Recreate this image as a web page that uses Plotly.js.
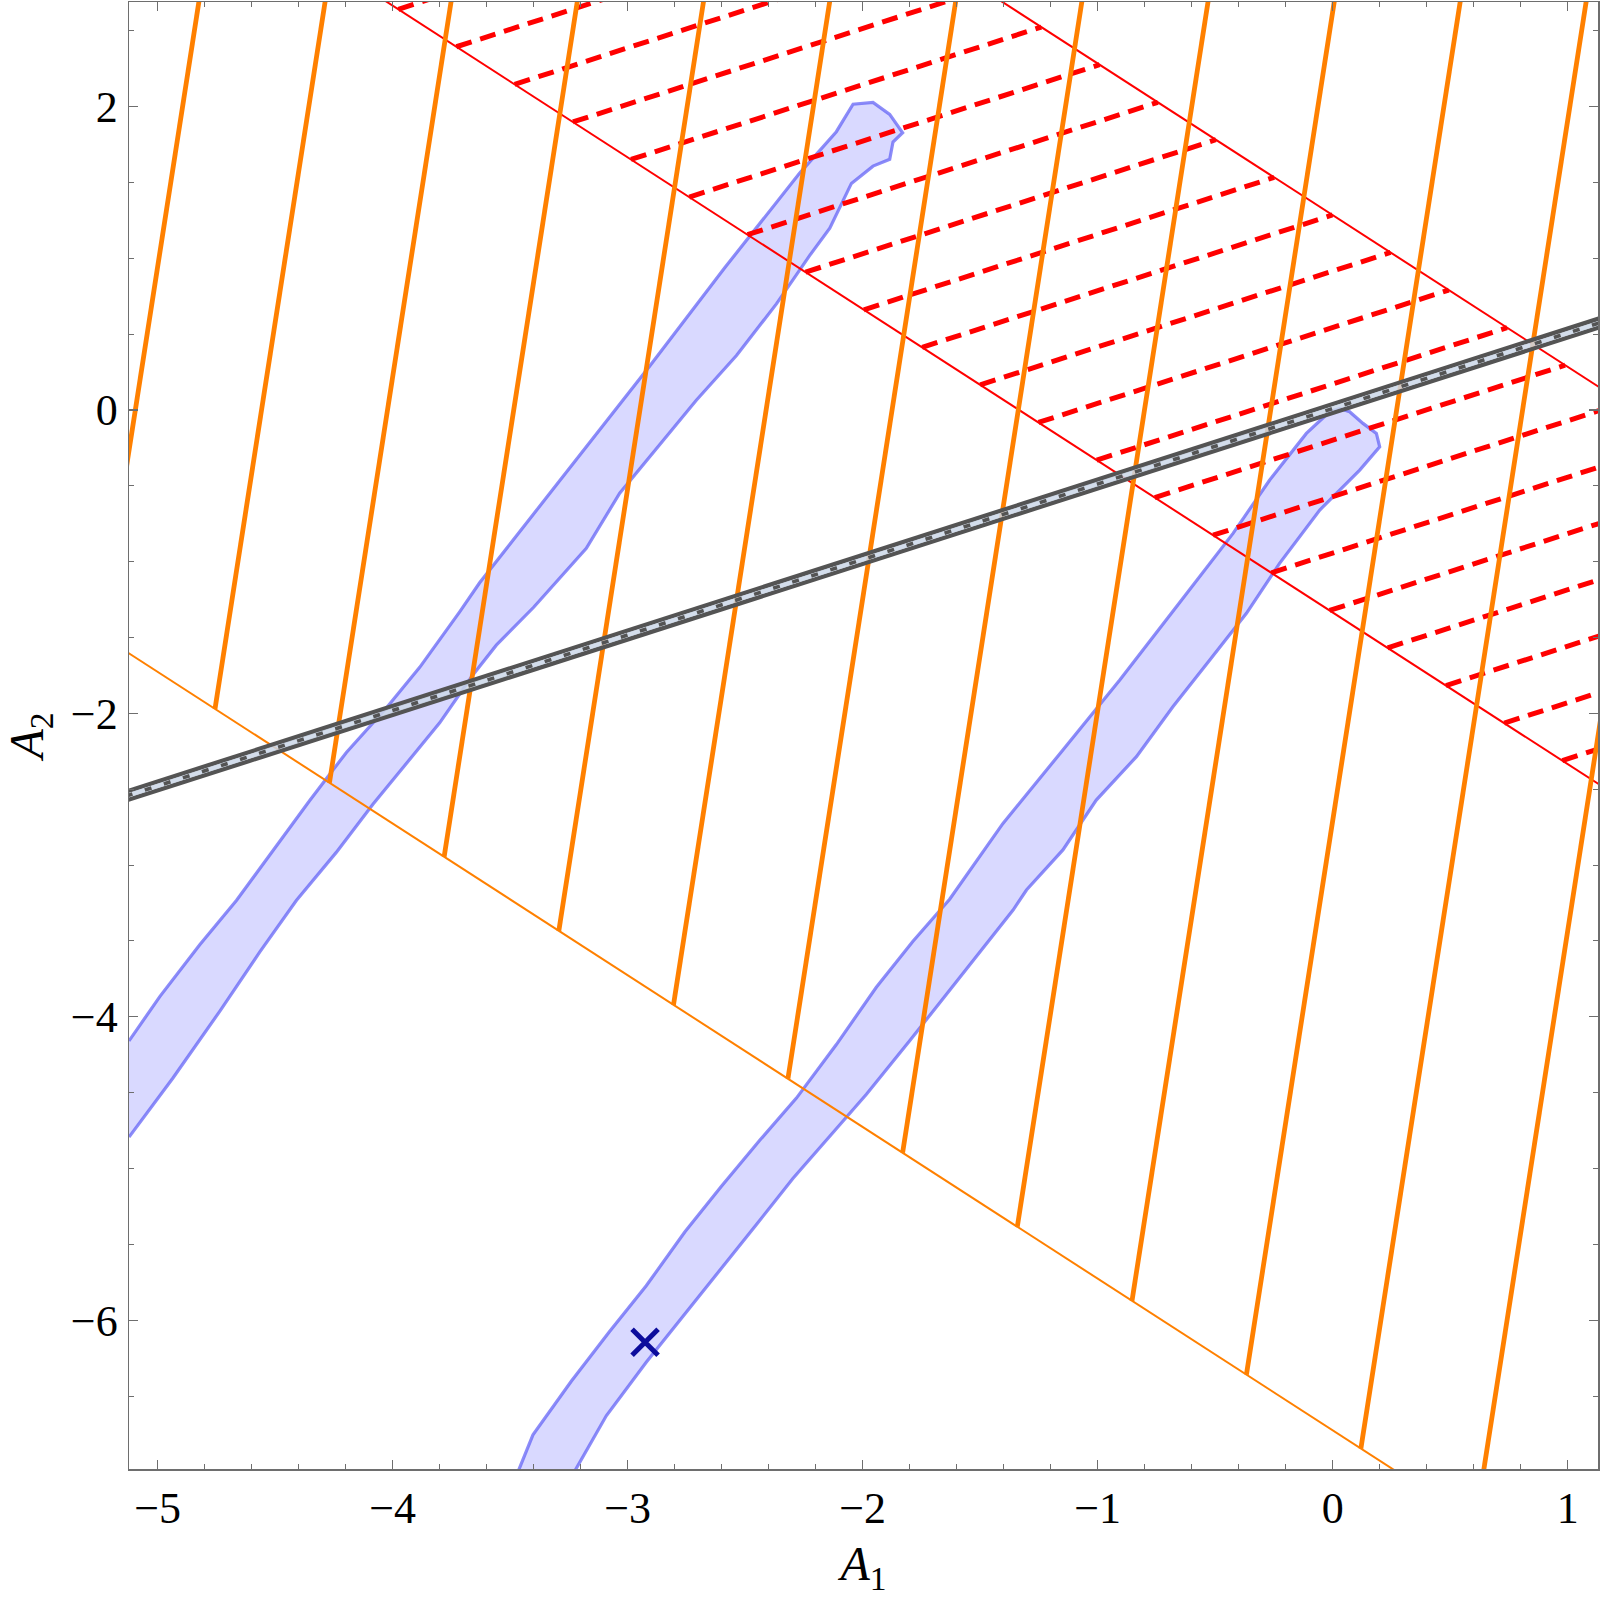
<!DOCTYPE html>
<html>
<head>
<meta charset="utf-8">
<script src="https://cdn.plot.ly/plotly-3.0.1.min.js"></script>
<style>html,body{margin:0;padding:0;background:#fff;}#chart{width:1600px;height:1599px;}</style>
</head>
<body>
<div id="chart"></div>
<script>
// ---- axis ranges and ticks ----
const xRange = [-5.122, 1.129];
const yRange = [-6.981, 2.690];
const xTicks = [-5, -4, -3, -2, -1, 0, 1];
const yTicks = [-6, -4, -2, 0, 2];

// ---- straight boundaries (y = slope*x + intercept) ----
const orangeBoundary = {slope: -1, intercept: -6.726};
const redLower = {slope: -1, intercept: -1.334};
const redUpper = {slope: -1, intercept: 1.285};
const grayLine = {slope: 0.4976, intercept: 0.01};

// ---- thick orange lines: start x on orange boundary, common slope ----
const orangeStartX = [-5.244, -4.756, -4.269, -3.781, -3.293, -2.805, -2.318, -1.830, -1.342, -0.854, -0.367, 0.120, 0.608];
const orangeSlope = 9.95;

// ---- red dashed lines: start x on lower red line, common slope, end on upper red line ----
const dashStartX = [-3.976, -3.729, -3.481, -3.233, -2.986, -2.738, -2.490, -2.243, -1.995, -1.747, -1.500, -1.252, -1.004, -0.757, -0.509, -0.261, -0.013, 0.234, 0.482, 0.730, 0.977];
const dashSlope = 0.5;

// ---- blue region 1 (upper-left band) ----
const band1X = [-5.122, -4.935, -4.736, -4.566, -4.410, -4.240, -4.084, -3.956, -3.800, -3.658, -3.559, -3.400, -3.346, -3.176, -3.034, -2.864, -2.708, -2.537, -2.367, -2.226, -2.140, -2.048, -1.956, -1.885, -1.871, -1.830,
  -1.885, -1.956, -2.041, -2.112, -2.268, -2.587, -2.906, -3.297, -3.630, -3.715, -3.885, -4.027, -4.197, -4.353, -4.516, -4.665, -4.821, -4.991, -5.122];
const band1Y = [-4.793, -4.403, -3.964, -3.574, -3.233, -2.916, -2.599, -2.355, -2.062, -1.745, -1.550, -1.300, -1.207, -0.912, -0.548, -0.231, 0.065, 0.359, 0.700, 1.018, 1.199, 1.494, 1.608, 1.653, 1.767, 1.828,
  1.949, 2.028, 2.016, 1.835, 1.562, 0.938, 0.291, -0.481, -1.139, -1.330, -1.696, -1.964, -2.257, -2.574, -2.916, -3.233, -3.525, -3.867, -4.159];

// ---- blue region 2 (lower-right band) ----
const band2X = [-3.481, -3.403, -3.240, -3.077, -2.921, -2.757, -2.601, -2.438, -2.282, -2.112, -1.942, -1.786, -1.630, -1.403, -1.148, -0.906, -0.665, -0.424, -0.268, -0.112, -0.013, 0.030, 0.072, 0.129, 0.186, 0.200,
  0.115, 0.030, -0.055, -0.226, -0.367, -0.523, -0.680, -0.835, -1.006, -1.148, -1.303, -1.360, -1.644, -1.800, -1.984, -2.126, -2.297, -2.452, -2.609, -2.765, -2.921, -3.091, -3.247];
const band2Y = [-7.054, -6.756, -6.403, -6.075, -5.773, -5.419, -5.117, -4.814, -4.536, -4.183, -3.805, -3.502, -3.225, -2.725, -2.241, -1.780, -1.297, -0.813, -0.461, -0.154, -0.011, 0.011, -0.011, -0.088, -0.154, -0.242,
  -0.396, -0.527, -0.659, -1.011, -1.340, -1.648, -1.956, -2.285, -2.571, -2.900, -3.164, -3.296, -3.855, -4.158, -4.511, -4.763, -5.066, -5.369, -5.672, -5.974, -6.277, -6.630, -7.054];

// ---- marker ----
const crossX = [-2.926];
const crossY = [-6.145];

// ---- helpers ----
function fullLine(l, dy) {
  const x0 = xRange[0] - 0.5, x1 = xRange[1] + 0.5;
  const d = dy || 0;
  return {x: [x0, x1], y: [l.slope * x0 + l.intercept + d, l.slope * x1 + l.intercept + d]};
}

// thick orange segments
const oX = [], oY = [];
orangeStartX.forEach(x0 => {
  const y0 = orangeBoundary.slope * x0 + orangeBoundary.intercept;
  const yEnd = yRange[1] + 0.5;
  const xEnd = x0 + (yEnd - y0) / orangeSlope;
  oX.push(x0, xEnd, null); oY.push(y0, yEnd, null);
});

// dashed red segments
const dX = [], dY = [];
dashStartX.forEach(x0 => {
  const y0 = redLower.slope * x0 + redLower.intercept;
  const x1 = (redUpper.intercept - y0 + dashSlope * x0) / (dashSlope - redUpper.slope);
  const y1 = y0 + dashSlope * (x1 - x0);
  dX.push(x0, x1, null); dY.push(y0, y1, null);
});

const ob = fullLine(orangeBoundary);
const rl = fullLine(redLower);
const ru = fullLine(redUpper);
const gc = fullLine(grayLine);
const gTop = fullLine(grayLine, 0.029);
const gBot = fullLine(grayLine, -0.029);

const ORANGE = '#ff8000';
const RED = '#ff0000';
const DARKGRAY = '#545454';
const SERIF = 'Liberation Serif, Times New Roman, serif';

const traces = [
  {x: band1X, y: band1Y, mode: 'lines', fill: 'toself', fillcolor: 'rgba(128,128,255,0.30)',
   line: {color: 'rgba(95,95,245,0.72)', width: 3.2}, hoverinfo: 'skip'},
  {x: band2X, y: band2Y, mode: 'lines', fill: 'toself', fillcolor: 'rgba(128,128,255,0.30)',
   line: {color: 'rgba(95,95,245,0.72)', width: 3.2}, hoverinfo: 'skip'},
  {x: dX, y: dY, mode: 'lines', line: {color: RED, width: 5, dash: '16px,9px'}, connectgaps: false},
  {x: rl.x, y: rl.y, mode: 'lines', line: {color: RED, width: 2}},
  {x: ru.x, y: ru.y, mode: 'lines', line: {color: RED, width: 2}},
  {x: ob.x, y: ob.y, mode: 'lines', line: {color: ORANGE, width: 2}},
  {x: oX, y: oY, mode: 'lines', line: {color: ORANGE, width: 4.8}, connectgaps: false},
  {x: gTop.x, y: gTop.y, mode: 'lines', line: {color: DARKGRAY, width: 4.4}},
  {x: gBot.x, y: gBot.y, mode: 'lines', line: {color: DARKGRAY, width: 4.4}},
  {x: gc.x, y: gc.y, mode: 'lines', opacity: 0.85, line: {color: '#cbd7e7', width: 4.6}},
  {x: gc.x, y: gc.y, mode: 'lines', line: {color: DARKGRAY, width: 3.6, dash: '7px,13px'}},
  {x: crossX, y: crossY, mode: 'markers',
   marker: {symbol: 'x-thin', size: 26, line: {color: '#0c0c9c', width: 5}}}
];

const axisCommon = {
  showgrid: false, zeroline: false, showline: true, mirror: 'allticks',
  linecolor: '#6e6e6e', linewidth: 1.5, ticks: 'inside', ticklen: 9, tickwidth: 1.2, tickcolor: '#6e6e6e',
  tickfont: {family: SERIF, size: 44, color: '#000'},
  fixedrange: true
};

const layout = {
  width: 1600, height: 1599,
  margin: {l: 129, r: 2, t: 2, b: 130},
  paper_bgcolor: '#fff', plot_bgcolor: '#fff',
  showlegend: false,
  xaxis: Object.assign({}, axisCommon, {
    range: xRange, tickmode: 'array', tickvals: xTicks, ticktext: xTicks.map(v => v < 0 ? '\u2212' + Math.abs(v) : String(v)),
    minor: {dtick: 0.2, tick0: 0, ticks: 'inside', ticklen: 5, tickcolor: '#6e6e6e', tickwidth: 1},
    ticklabelstandoff: 0,
    title: {text: '<i>A</i><sub>1</sub>', font: {family: SERIF, size: 48, color: '#000'}, standoff: 14}
  }),
  yaxis: Object.assign({}, axisCommon, {
    range: yRange, tickmode: 'array', tickvals: yTicks, ticktext: yTicks.map(v => v < 0 ? '\u2212' + Math.abs(v) : String(v)),
    minor: {dtick: 0.5, tick0: 0, ticks: 'inside', ticklen: 5, tickcolor: '#6e6e6e', tickwidth: 1},
    ticklabelstandoff: 1,
    title: {text: '<i>A</i><sub>2</sub>', font: {family: SERIF, size: 48, color: '#000'}, standoff: 12}
  })
};

Plotly.newPlot('chart', traces, layout, {staticPlot: true, displayModeBar: false});
</script>
</body>
</html>
